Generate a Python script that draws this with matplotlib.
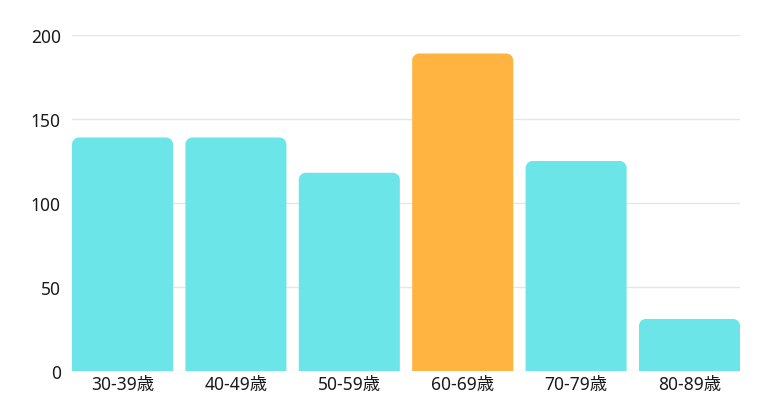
import matplotlib
matplotlib.use("Agg")
import matplotlib.pyplot as plt
from matplotlib.path import Path
from matplotlib.patches import PathPatch

plt.rcParams['font.family'] = ['Noto Sans', 'Noto Sans CJK JP', 'DejaVu Sans']

categories = ["30-39歳", "40-49歳", "50-59歳", "60-69歳", "70-79歳", "80-89歳"]
values = [139, 139, 118, 189, 125, 31]
highlight = "60-69歳"
yticks = [0, 50, 100, 150, 200]

base_color = "#6BE5E7"
hi_color = "#FFB340"

fig = plt.figure(figsize=(7.8, 4.1), dpi=100)
ax = fig.add_axes([72/780, 38/410, 668/780, 336/410])

width = 0.891
x = list(range(len(categories)))
colors = [hi_color if c == highlight else base_color for c in categories]
bars = ax.bar(x, values, width=width, color=colors, zorder=2)
ax.set_xlim(-width/2, len(categories) - 1 + width/2)
ax.set_ylim(0, 200)

# rounded top corners
fig.canvas.draw()
px_per_x = (668) / (ax.get_xlim()[1] - ax.get_xlim()[0])
px_per_y = 336 / 200
r_px = 7
rx = r_px / px_per_x
ry = r_px / px_per_y
k = 0.5523
for b, col in zip(bars, colors):
    x0, y0 = b.get_x(), b.get_y()
    w, h = b.get_width(), b.get_height()
    x1, y1 = x0 + w, y0 + h
    verts = [
        (x0, y0), (x0, y1 - ry),
        (x0, y1 - ry + k*ry), (x0 + rx - k*rx, y1), (x0 + rx, y1),
        (x1 - rx, y1),
        (x1 - rx + k*rx, y1), (x1, y1 - ry + k*ry), (x1, y1 - ry),
        (x1, y0), (x0, y0),
    ]
    codes = [Path.MOVETO, Path.LINETO,
             Path.CURVE4, Path.CURVE4, Path.CURVE4,
             Path.LINETO,
             Path.CURVE4, Path.CURVE4, Path.CURVE4,
             Path.LINETO, Path.CLOSEPOLY]
    p = PathPatch(Path(verts, codes), facecolor=col, edgecolor='none', zorder=2)
    b.remove()
    ax.add_patch(p)

ax.set_yticks(yticks)
ax.set_xticks(x)
ax.set_xticklabels(categories)
ax.grid(axis='y', color='#e6e6e6', linewidth=1, zorder=0)
ax.set_axisbelow(True)
for s in ax.spines.values():
    s.set_visible(False)
ax.tick_params(axis='both', length=0, labelsize=12.5, colors='#1a1a1a')
ax.tick_params(axis='y', pad=8)
ax.tick_params(axis='x', pad=3)

fig.savefig("out.png", dpi=100)
